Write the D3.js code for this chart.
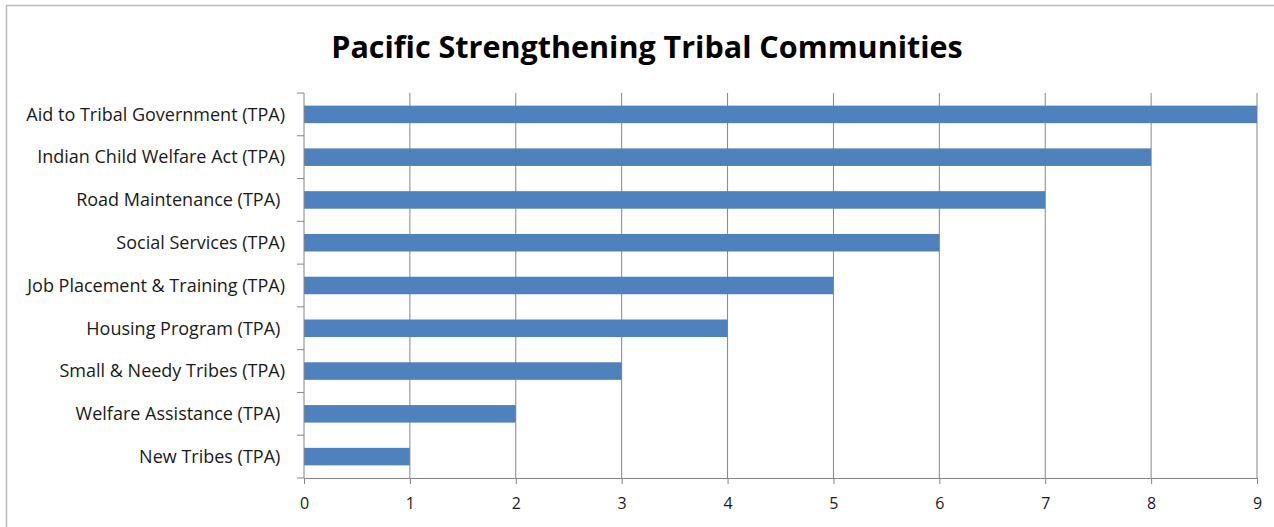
<!DOCTYPE html>
<html>
<head>
<meta charset="utf-8">
<script src="https://cdn.jsdelivr.net/npm/d3@7"></script>
<style>
  body { margin: 0; background: #fff; }
  svg { display: block; }
  .tick text { font-family: "Open Sans", sans-serif; }
</style>
</head>
<body>
<svg id="chart"></svg>
<script>
// data, top to bottom as drawn
const categories = [
    'Aid to Tribal Government (TPA)',
    'Indian Child Welfare Act (TPA)',
    'Road Maintenance (TPA) ',
    'Social Services (TPA)',
    'Job Placement & Training (TPA)',
    'Housing Program (TPA) ',
    'Small & Needy Tribes (TPA)',
    'Welfare Assistance (TPA) ',
    'New Tribes (TPA) '
];
const values = [9, 8, 7, 6, 5, 4, 3, 2, 1];
const xticks = [0, 1, 2, 3, 4, 5, 6, 7, 8, 9];
const title = 'Pacific Strengthening Tribal Communities';

const width = 1274, height = 527;
const margin = { top: 93, right: 17, bottom: 49, left: 304 };
const inner_width = width - margin.left - margin.right;
const inner_height = height - margin.top - margin.bottom;

const svg = d3.select('#chart')
    .attr('width', width)
    .attr('height', height);

// outer chart frame
svg.append('rect')
    .attr('x', 6.5)
    .attr('y', 5.5)
    .attr('width', width + 10)
    .attr('height', height + 10)
    .attr('fill', 'none')
    .attr('stroke', '#bcbcbc')
    .attr('stroke-width', 1.5);

svg.append('text')
    .attr('x', 647)
    .attr('y', 58)
    .attr('text-anchor', 'middle')
    .attr('font-family', '"Open Sans", sans-serif')
    .attr('font-weight', 'bold')
    .attr('font-size', 30.5)
    .attr('fill', '#000')
    .text(title);

const chart = svg.append('g')
    .attr('transform', `translate(${margin.left}, ${margin.top})`);

const xscale = d3.scaleLinear()
    .domain([0, 9])
    .range([0, inner_width]);

const yscale = d3.scaleBand()
    .domain(categories)
    .range([0, inner_height])
    .paddingInner(0.59)
    .paddingOuter(0.295);

// vertical gridlines
chart.append('g')
    .selectAll('line')
    .data(xticks.slice(1))
    .join('line')
    .attr('x1', d => xscale(d))
    .attr('x2', d => xscale(d))
    .attr('y1', 0)
    .attr('y2', inner_height)
    .attr('stroke', '#868686')
    .attr('stroke-width', 1);

chart.append('g')
    .selectAll('rect')
    .data(values)
    .join('rect')
    .attr('x', 0)
    .attr('y', (d, i) => yscale(categories[i]))
    .attr('width', d => xscale(d))
    .attr('height', yscale.bandwidth())
    .attr('fill', '#4f81bd');

const xaxis = d3.axisBottom(xscale)
    .tickValues(xticks)
    .tickFormat(d3.format('d'))
    .tickSizeInner(6)
    .tickSizeOuter(0)
    .tickPadding(14);

const xaxis_group = chart.append('g')
    .attr('transform', `translate(0, ${inner_height})`)
    .call(xaxis);
xaxis_group.select('.domain').attr('stroke', '#868686');
xaxis_group.selectAll('.tick line').attr('stroke', '#868686');
xaxis_group.selectAll('.tick text')
    .attr('font-size', 16)
    .attr('fill', '#1a1a1a');

// category axis: ticks sit on the band boundaries, not the centres
const yaxis_group = chart.append('g');
yaxis_group.append('line')
    .attr('x1', 0).attr('x2', 0)
    .attr('y1', 0).attr('y2', inner_height)
    .attr('stroke', '#868686');
const step = yscale.step();
yaxis_group.selectAll('line.cat')
    .data(d3.range(categories.length + 1))
    .join('line')
    .attr('class', 'cat')
    .attr('x1', -7).attr('x2', 0)
    .attr('y1', i => i * step)
    .attr('y2', i => i * step)
    .attr('stroke', '#868686');
yaxis_group.selectAll('text')
    .data(categories)
    .join('text')
    .attr('x', -19)
    .attr('y', d => yscale(d) + yscale.bandwidth() / 2)
    .attr('dy', '0.35em')
    .attr('text-anchor', 'end')
    .attr('font-family', '"Open Sans", sans-serif')
    .attr('font-size', 18)
    .attr('fill', '#1a1a1a')
    .style('white-space', 'pre')
    .text(d => d);
</script>
</body>
</html>
